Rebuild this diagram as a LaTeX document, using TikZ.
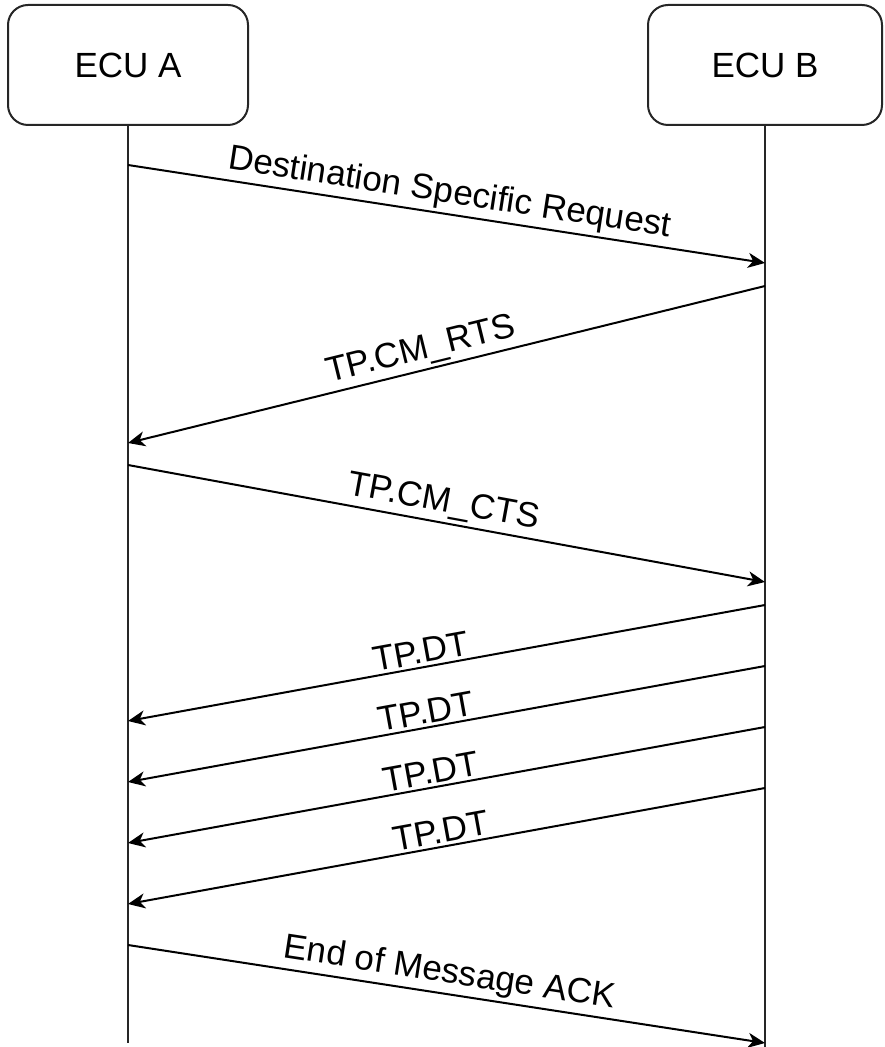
\documentclass[tikz,border=0pt]{standalone}
\usepackage{fontspec}
\setmainfont{Liberation Sans}
\usetikzlibrary{arrows.meta}

\begin{document}
\begin{tikzpicture}[x=0.5pt, y=-0.5pt,
  font=\fontsize{17.5pt}{21pt}\selectfont,
  ecu/.style={draw=black!85, line width=1pt, rounded corners=10pt, minimum height=60pt, inner sep=0pt},
  life/.style={draw=black!85, line width=1pt},
  msg/.style={line width=1pt, -{Stealth[length=8.5pt, width=7.5pt, inset=2.5pt]}},
  lbl/.style={above, sloped, inner sep=1.5pt},
]
\useasboundingbox (0,0) rectangle (884,1047);
\node[ecu, minimum width=120pt] (ecuA) at (128,65) {ECU A};
\node[ecu, minimum width=117pt] (ecuB) at (765,65) {ECU B};
\draw[life] (ecuA.south) -- (ecuA |- 0,1043);
\draw[life] (ecuB.south) -- (ecuB |- 0,1047);

% handshake
\draw[msg] (ecuA |- 0,165) -- node[lbl, pos=.5] {Destination Specific Request} (ecuB |- 0,263);
\draw[msg] (ecuB |- 0,286) -- node[lbl, pos=.533] {TP.CM\_RTS} (ecuA |- 0,443);
\draw[msg] (ecuA |- 0,465) -- node[lbl, pos=.49] {TP.CM\_CTS} (ecuB |- 0,582);

% data packets
\draw[msg] (ecuB |- 0,605) -- node[lbl, pos=.536] {TP.DT} (ecuA |- 0,721);
\draw[msg] (ecuB |- 0,666) -- node[lbl, pos=.528] {TP.DT} (ecuA |- 0,782);
\draw[msg] (ecuB |- 0,727) -- node[lbl, pos=.52] {TP.DT} (ecuA |- 0,843);
\draw[msg] (ecuB |- 0,788) -- node[lbl, pos=.505] {TP.DT} (ecuA |- 0,904);

\draw[msg] (ecuA |- 0,945) -- node[lbl, pos=.5] {End of Message ACK} (ecuB |- 0,1043);
\end{tikzpicture}
\end{document}
